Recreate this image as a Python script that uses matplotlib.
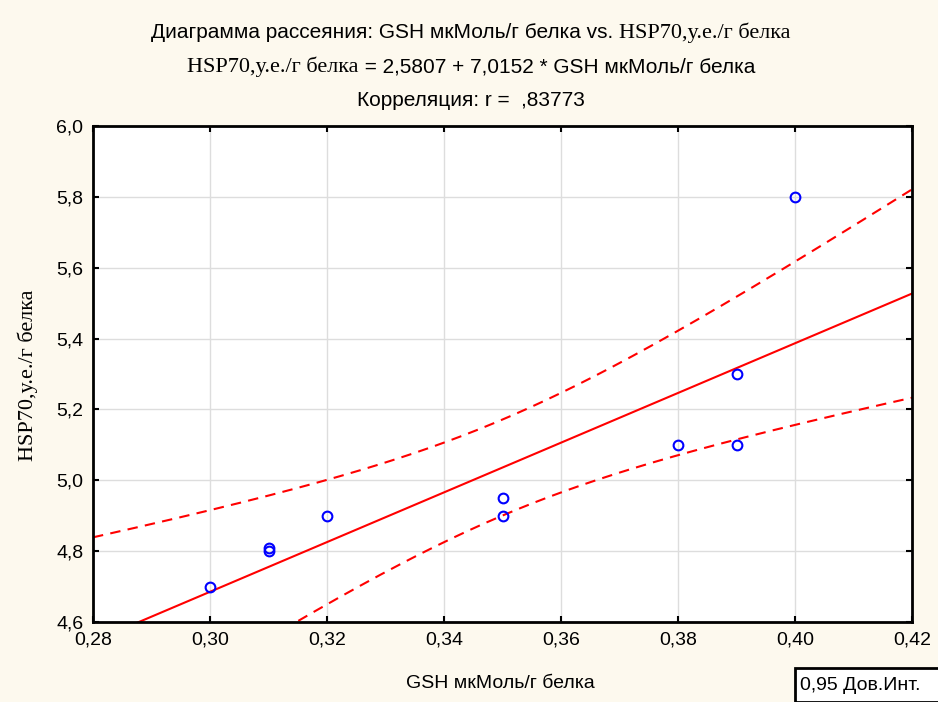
import matplotlib
matplotlib.use('Agg')
import matplotlib.pyplot as plt
import numpy as np
from matplotlib.ticker import FuncFormatter
from matplotlib.patches import Rectangle

gsh = [0.30, 0.31, 0.31, 0.32, 0.35, 0.35, 0.38, 0.39, 0.39, 0.40]
hsp70 = [4.70, 4.80, 4.81, 4.90, 4.95, 4.90, 5.10, 5.30, 5.10, 5.80]
x_ticks = [0.28, 0.30, 0.32, 0.34, 0.36, 0.38, 0.40, 0.42]
y_ticks = [4.6, 4.8, 5.0, 5.2, 5.4, 5.6, 5.8, 6.0]
t_crit = 2.306  # t(0.975, df=8)

SANS = 'Liberation Sans'
SERIF = 'Liberation Serif'
bg = '#fdf9ee'

x = np.array(gsh)
y = np.array(hsp70)
n = len(x)
slope, icpt = np.polyfit(x, y, 1)
resid = y - (icpt + slope * x)
s = np.sqrt(np.sum(resid ** 2) / (n - 2))
sxx = np.sum((x - x.mean()) ** 2)
xs = np.linspace(0.28, 0.42, 200)
fit = icpt + slope * xs
half = t_crit * s * np.sqrt(1 / n + (xs - x.mean()) ** 2 / sxx)

fig = plt.figure(figsize=(9.38, 7.02), dpi=100, facecolor=bg)
ax = fig.add_axes([93 / 938, 1 - 622 / 702, (912 - 93) / 938, (622 - 126) / 702])
ax.set_facecolor('white')

ax.plot(xs, fit, color='red', lw=1.5)
ax.plot(xs, fit + half, color='red', lw=1.5, ls=(0, (5, 3.5)))
ax.plot(xs, fit - half, color='red', lw=1.5, ls=(0, (5, 3.5)))
ax.plot(x, y, 'o', mfc='none', mec='blue', mew=1.5, ms=7)

ax.set_xlim(0.28, 0.42)
ax.set_ylim(4.6, 6.0)
ax.set_xticks(x_ticks)
ax.set_yticks(y_ticks)
ax.xaxis.set_major_formatter(FuncFormatter(lambda v, p: f'{v:.2f}'.replace('.', ',')))
ax.yaxis.set_major_formatter(FuncFormatter(lambda v, p: f'{v:.1f}'.replace('.', ',')))
ax.grid(True, color='#dddddd', lw=1)
ax.set_axisbelow(True)
ax.tick_params(direction='in', length=4, width=1.5, top=True, right=True,
               labelsize=14, pad=7)
for lab in ax.get_xticklabels() + ax.get_yticklabels():
    lab.set_fontfamily(SANS)
for sp in ax.spines.values():
    sp.set_linewidth(2)

fig.text(500 / 938, 1 - 683 / 702, 'GSH мкМоль/г белка', family=SANS, fontsize=14,
         ha='center', va='center')
fig.text(28 / 938, 1 - 375 / 702, 'HSP70,у.е./г белка', family=SERIF,
         fontsize=16, rotation=90, ha='center', va='center')


def mixed_line(parts, cx, cy, size):
    r = fig.canvas.get_renderer()
    texts = [fig.text(0, cy, s_, family=f, fontsize=sz, va='center') for s_, f, sz in parts]
    widths = [t.get_window_extent(r).width / fig.bbox.width for t in texts]
    x0 = cx - sum(widths) / 2
    for t, w in zip(texts, widths):
        t.set_x(x0)
        x0 += w


mixed_line([('Диаграмма рассеяния: GSH мкМоль/г белка vs. ', SANS, 15),
            ('HSP70,у.е./г белка', SERIF, 16)], 471 / 938, 1 - 33 / 702, 15)
mixed_line([('HSP70,у.е./г белка', SERIF, 16),
            (' = 2,5807 + 7,0152 * GSH мкМоль/г белка', SANS, 15)], 471 / 938, 1 - 67 / 702, 15)
mixed_line([('Корреляция: r =  ,83773', SANS, 15)], 471 / 938, 1 - 100 / 702, 15)

fig.patches.append(Rectangle((795 / 938, 0), 0.2, 34 / 702, transform=fig.transFigure,
                             facecolor='white', edgecolor='black', lw=2))
fig.text(800 / 938, 1 - 686 / 702, '0,95 Дов.Инт.', family=SANS, fontsize=14, va='center')

fig.savefig('out.png', dpi=100, facecolor=bg)
